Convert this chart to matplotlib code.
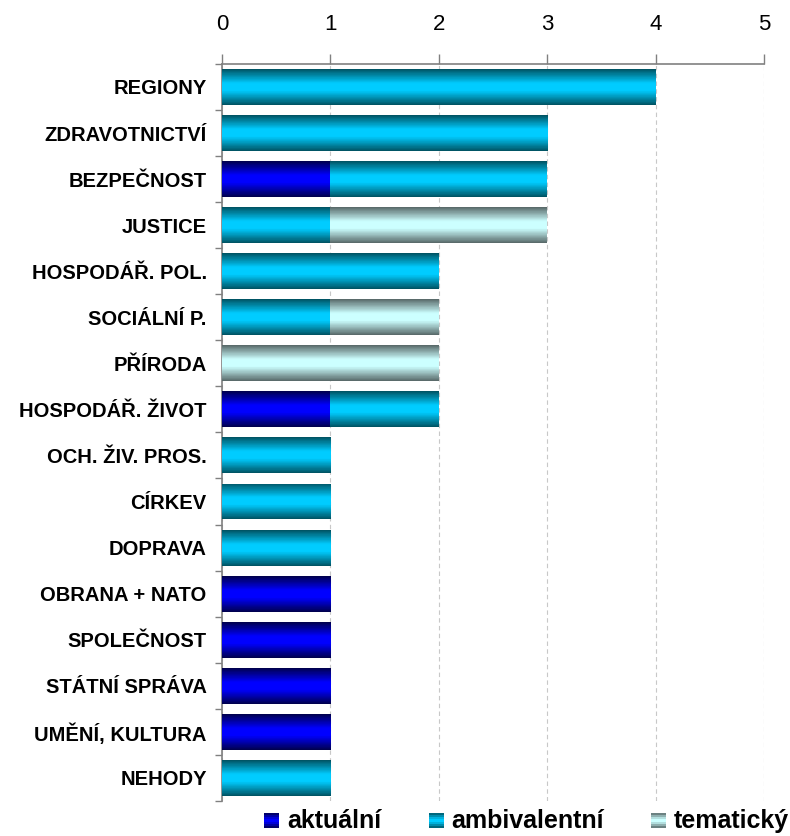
import matplotlib
matplotlib.use('Agg')
import numpy as np
import matplotlib.pyplot as plt
from matplotlib.colors import LinearSegmentedColormap
from matplotlib.patches import Rectangle
from matplotlib.legend_handler import HandlerBase

plt.rcParams['font.family'] = ['Liberation Sans', 'DejaVu Sans']

categories = ['REGIONY', 'ZDRAVOTNICTVÍ', 'BEZPEČNOST', 'JUSTICE', 'HOSPODÁŘ. POL.',
              'SOCIÁLNÍ P.', 'PŘÍRODA', 'HOSPODÁŘ. ŽIVOT', 'OCH. ŽIV. PROS.', 'CÍRKEV',
              'DOPRAVA', 'OBRANA + NATO', 'SPOLEČNOST', 'STÁTNÍ SPRÁVA', 'UMĚNÍ, KULTURA', 'NEHODY']
aktualni = [0, 0, 1, 0, 0, 0, 0, 1, 0, 0, 0, 1, 1, 1, 1, 0]
ambivalentni = [4, 3, 2, 1, 2, 1, 0, 1, 1, 1, 1, 0, 0, 0, 0, 1]
tematicky = [0, 0, 0, 2, 0, 1, 2, 0, 0, 0, 0, 0, 0, 0, 0, 0]
series_names = ['aktuální', 'ambivalentní', 'tematický']

# edge colour -> centre colour -> edge colour (cylinder look)
grads = {
    'aktuální': ('#000050', '#0000ff'),
    'ambivalentní': ('#005565', '#00ccff'),
    'tematický': ('#5a6b6b', '#ccffff'),
}
cmaps = {k: LinearSegmentedColormap.from_list(k, [(0, e), (0.4, c), (0.6, c), (1, e)])
         for k, (e, c) in grads.items()}
grad_img = np.linspace(0, 1, 64).reshape(-1, 1)

fig = plt.figure(figsize=(7.9, 8.36), dpi=100)
ax = fig.add_axes([0.281, 0.042, 0.686, 0.8815])

y = np.arange(len(categories))
left = np.zeros(len(categories))
h = 0.78
for name, vals in zip(series_names, [aktualni, ambivalentni, tematicky]):
    vals = np.array(vals, dtype=float)
    bars = ax.barh(y, vals, left=left, height=h, color=grads[name][1], linewidth=0, zorder=2)
    for b, v in zip(bars, vals):
        if v <= 0:
            continue
        x0, y0, w, hh = b.get_x(), b.get_y(), b.get_width(), b.get_height()
        im = ax.imshow(grad_img, cmap=cmaps[name], aspect='auto', interpolation='nearest',
                       extent=(x0, x0 + w, y0 + hh, y0), zorder=3)
        im.set_clip_path(b)
    left += vals

ax.set_xlim(0, 5)
ax.set_ylim(len(categories) - 0.5, -0.5)
ax.set_yticks(y)
ax.set_yticklabels(categories, fontsize=14.5, fontweight='bold')
ax.set_yticks(np.arange(len(categories) + 1) - 0.5, minor=True)
ax.tick_params(axis='y', which='major', length=0, pad=11)
ax.tick_params(axis='y', which='minor', length=5, color='#808080', width=1)
ax.xaxis.tick_top()
ax.set_xticks(range(6))
ax.tick_params(axis='x', length=7, color='#808080', width=1, labelsize=16, pad=14)
ax.grid(axis='x', linestyle=(0, (4, 3)), color='#c8c8c8', linewidth=0.8, zorder=0)
ax.set_axisbelow(True)
for s in ['right', 'bottom']:
    ax.spines[s].set_visible(False)
for s in ['top', 'left']:
    ax.spines[s].set_color('#808080')
    ax.spines[s].set_linewidth(1.2)


class GradHandler(HandlerBase):
    def create_artists(self, legend, orig_handle, xdescent, ydescent, width, height, fontsize, trans):
        cmap = cmaps[orig_handle.get_label()]
        n = 8
        side = height * 0.85
        x0 = xdescent + width - side
        arts = []
        for i in range(n):
            c = cmap((i + 0.5) / n)
            r = Rectangle((x0, -ydescent + side * (n - 1 - i) / n), side, side / n,
                          facecolor=c, edgecolor='none', transform=trans)
            arts.append(r)
        return arts


handles = [Rectangle((0, 0), 1, 1, label=n) for n in series_names]
fig.legend(handles=handles, labels=series_names, handler_map={Rectangle: GradHandler()},
           loc='center', bbox_to_anchor=(0.665, 0.018), ncol=3, frameon=False,
           prop={'weight': 'bold', 'size': 18}, handlelength=0.7, handletextpad=0.3,
           columnspacing=1.8, borderpad=0)

fig.savefig('out.png')
